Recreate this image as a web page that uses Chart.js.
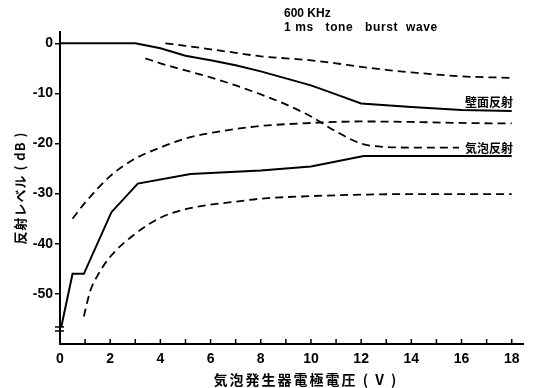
<!DOCTYPE html>
<html lang="ja">
<head>
  <meta charset="UTF-8">
  <title>反射レベル</title>
  <style>
    body { margin: 0; background: #fff; }
  </style>
</head>
<body>
  <canvas id="myChart" width="533" height="388"></canvas>

  <script src="https://cdn.jsdelivr.net/npm/chart.js"></script>

  <script>
    // 壁面反射 (solid) and its dashed bounds
    const wallV = [0, 3, 4, 5, 6, 7, 8, 9, 10, 11, 12, 14, 16, 18];
    const wallDb = [0, 0, -1, -2.5, -3.4, -4.4, -5.6, -7, -8.4, -10.2, -12, -12.7, -13.3, -13.5];
    const wallUpperV = [4.2, 5, 6, 7, 8, 9, 10, 11, 12, 13, 14, 16, 18];
    const wallUpperDb = [0, -0.5, -1.2, -1.9, -2.6, -3.0, -3.4, -4.0, -4.7, -5.3, -5.8, -6.6, -6.9];
    const wallLowerV = [3.4, 4, 5, 6, 7, 8, 9, 10, 11, 12, 13, 14, 15.9];
    const wallLowerDb = [-3, -4, -5.4, -6.8, -8.4, -10.2, -12.2, -14.6, -17.6, -20, -20.7, -20.8, -20.8];

    // 気泡反射 (solid) and its dashed bounds
    const bubbleV = [0.05, 0.5, 0.95, 2.05, 3.1, 5.2, 8, 10, 12.1, 18];
    const bubbleDb = [-56.6, -46, -46, -33.7, -28, -26.1, -25.4, -24.6, -22.5, -22.5];
    const bubbleUpperV = [0.5, 1, 2, 3, 4, 5, 6, 7, 8, 10, 12, 14, 16, 18];
    const bubbleUpperDb = [-35, -31.8, -26.5, -23, -20.8, -19, -17.9, -17.1, -16.5, -15.9, -15.6, -15.7, -15.9, -16];
    const bubbleLowerV = [0.95, 1.2, 1.5, 2, 3, 4, 5, 6, 7, 8, 10, 12, 14, 16, 18];
    const bubbleLowerDb = [-54.5, -49.5, -46.3, -42.6, -38, -34.8, -33.1, -32.2, -31.6, -31, -30.5, -30.2, -30.1, -30.1, -30.1];

    const xTicks = [0, 1, 2, 3, 4, 5, 6, 7, 8, 9, 10, 11, 12, 13, 14, 15, 16, 17, 18];
    const yTicks = [-50, -40, -30, -20, -10, 0];

    const numFont = { family: 'Liberation Sans', size: 14, weight: 'bold' };
    const jpFont = '"Noto Sans CJK JP", sans-serif';

    function pts(xs, ys) {
      return xs.map((x, i) => ({ x: x, y: ys[i] }));
    }

    function solid(label, xs, ys) {
      return {
        label: label,
        data: pts(xs, ys),
        borderColor: '#000',
        borderWidth: 2,
        pointRadius: 0,
        tension: 0
      };
    }

    function dashed(label, xs, ys) {
      return {
        label: label,
        data: pts(xs, ys),
        borderColor: '#000',
        borderWidth: 1.8,
        borderDash: [8, 5],
        pointRadius: 0,
        cubicInterpolationMode: 'monotone'
      };
    }

    const extras = {
      id: 'extras',
      afterDraw(chart) {
        const c = chart.ctx;
        const xs = chart.scales.x;
        const ys = chart.scales.y;
        const bottom = chart.chartArea.bottom;
        c.save();
        c.strokeStyle = '#000';
        c.fillStyle = '#000';

        // inward x ticks
        c.lineWidth = 1.5;
        xTicks.forEach(v => {
          const px = xs.getPixelForValue(v);
          c.beginPath();
          c.moveTo(px, bottom);
          c.lineTo(px, bottom - 5);
          c.stroke();
        });

        // axis break marks
        const x0 = xs.getPixelForValue(0);
        [-56.6, -57.4].forEach(v => {
          const py = ys.getPixelForValue(v);
          c.beginPath();
          c.moveTo(x0 - 5, py);
          c.lineTo(x0 + 4, py);
          c.stroke();
        });

        // header notes
        c.textBaseline = 'middle';
        c.textAlign = 'left';
        c.font = 'bold 12px "Liberation Sans"';
        c.fillText('600 KHz', 284, 14);
        c.font = 'bold 12px "Liberation Sans"';
        c.letterSpacing = '0.6px';
        c.fillText('1 ms   tone   burst  wave', 284, 28);
        c.letterSpacing = '0px';

        // curve labels
        c.textAlign = 'right';
        c.font = 'bold 12px ' + jpFont;
        c.fillText('壁面反射', 513, 102);
        c.fillText('気泡反射', 513, 148);

        // axis titles
        c.textAlign = 'center';
        c.font = 'bold 14px ' + jpFont;
        c.letterSpacing = '2px';
        c.fillText('気泡発生器電極電圧 ( V )', 306, 380);
        c.translate(20, 188);
        c.rotate(-Math.PI / 2);
        c.letterSpacing = '1px';
        c.font = 'bold 13px ' + jpFont;
        c.fillText('反射レベル ( dB )', 0, 0);
        c.restore();
      }
    };

    new Chart(document.getElementById('myChart'), {
      type: 'line',
      data: {
        datasets: [
          solid('壁面反射', wallV, wallDb),
          dashed('壁面反射 上限', wallUpperV, wallUpperDb),
          dashed('壁面反射 下限', wallLowerV, wallLowerDb),
          solid('気泡反射', bubbleV, bubbleDb),
          dashed('気泡反射 上限', bubbleUpperV, bubbleUpperDb),
          dashed('気泡反射 下限', bubbleLowerV, bubbleLowerDb)
        ]
      },
      plugins: [extras],
      options: {
        responsive: false,
        animation: false,
        layout: { padding: { top: 32, right: 10, left: 0, bottom: 0 } },
        plugins: {
          legend: { display: false },
          tooltip: { enabled: false }
        },
        scales: {
          x: {
            type: 'linear',
            min: 0,
            max: 18.45,
            afterBuildTicks: s => { s.ticks = xTicks.map(v => ({ value: v })); },
            afterFit: s => { s.height = 44; },
            grid: { drawOnChartArea: false, drawTicks: false },
            border: { display: true, color: '#000', width: 2 },
            ticks: {
              color: '#000',
              font: numFont,
              padding: 7,
              maxRotation: 0,
              autoSkip: false,
              callback: v => (v % 2 === 0 ? v : '')
            }
          },
          y: {
            min: -60,
            max: 2.25,
            afterBuildTicks: s => { s.ticks = yTicks.map(v => ({ value: v })); },
            afterFit: s => { s.width = 60; },
            grid: { drawOnChartArea: false, drawTicks: true, tickLength: 5, color: '#000', lineWidth: 1.5 },
            border: { display: true, color: '#000', width: 2 },
            ticks: { color: '#000', font: numFont, padding: 2 }
          }
        }
      }
    });
  </script>
</body>
</html>
